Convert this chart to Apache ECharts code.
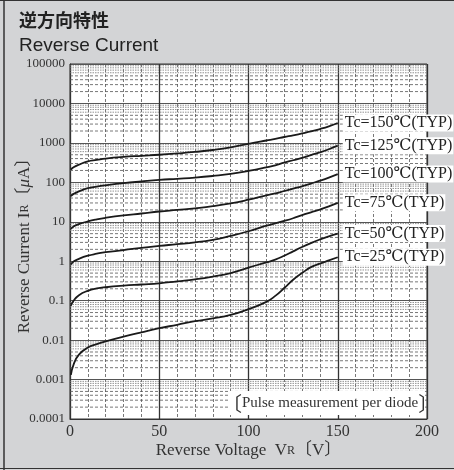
<!DOCTYPE html>
<html><head><meta charset="utf-8">
<script src="https://cdn.jsdelivr.net/npm/echarts@6/dist/echarts.min.js"></script>
<style>html,body{margin:0;padding:0;background:#d3d4d6;}#c{width:454px;height:470px;}</style>
</head><body><div id="c"></div>
<script>
const voltage = [0.5, 2, 5, 10, 15, 20, 30, 40, 50, 60, 70, 80, 90, 100, 110, 115, 120, 125, 130, 135, 140, 145, 150];
const tc150 = [210, 240, 280, 340, 370, 400, 440, 470, 500, 540, 590, 660, 770, 950, 1150, 1260, 1410, 1550, 1740, 1950, 2240, 2630, 3200];
const tc125 = [45, 51, 59, 71, 78, 84, 95, 105, 115, 123, 132, 145, 163, 195, 240, 270, 316, 363, 417, 490, 575, 690, 850];
const tc100 = [6.6, 7.6, 8.7, 10.2, 11.5, 12.6, 14.5, 16.2, 18.2, 20, 22, 24.8, 29.2, 36.3, 46.8, 52.5, 60.3, 69.2, 79.4, 93.3, 110, 132, 162];
const tc75 = [0.83, 0.98, 1.15, 1.38, 1.55, 1.70, 1.91, 2.19, 2.45, 2.7, 3.0, 3.5, 4.4, 5.75, 7.94, 9.12, 10.5, 12.3, 14.8, 17.4, 20.4, 24.5, 30.2];
const tc50 = [0.074, 0.1, 0.138, 0.178, 0.204, 0.219, 0.24, 0.257, 0.275, 0.309, 0.347, 0.407, 0.501, 0.69, 0.933, 1.10, 1.38, 1.78, 2.29, 2.88, 3.55, 4.27, 5.01];
const tc25 = [0.00132, 0.0024, 0.00427, 0.00646, 0.00794, 0.00933, 0.0123, 0.0158, 0.02, 0.0245, 0.0302, 0.0355, 0.0435, 0.061, 0.0933, 0.132, 0.209, 0.339, 0.501, 0.708, 0.871, 1.05, 1.26];
const seriesNames = ['Tc=150℃(TYP)', 'Tc=125℃(TYP)', 'Tc=100℃(TYP)', 'Tc=75℃(TYP)', 'Tc=50℃(TYP)', 'Tc=25℃(TYP)'];
const yTickLabels = ['0.0001', '0.001', '0.01', '0.1', '1', '10', '100', '1000', '10000', '100000'];
const xTickLabels = ['0', '50', '100', '150', '200'];

const serif = '"Liberation Serif","DejaVu Serif","Noto Sans CJK JP",serif';
const allSeries = [tc150, tc125, tc100, tc75, tc50, tc25];

// minor log grid values 2..9 per decade
const minorVals = [];
for (let e = -4; e < 5; e++) {
  for (let m = 2; m <= 9; m++) minorVals.push(m * Math.pow(10, e));
}

const series = [{
  type: 'custom', z: 1, silent: true, clip: true,
  data: minorVals.map(v => [v]),
  encode: { y: 0 },
  renderItem: function (params, api) {
    const v = api.value(0);
    const p1 = api.coord([0, v]);
    const p2 = api.coord([200, v]);
    const m = Math.round(v / Math.pow(10, Math.floor(Math.log10(v) + 1e-9)));
    const dense = m >= 6;
    return {
      type: 'line', silent: true,
      shape: { x1: p1[0], y1: p1[1], x2: p2[0], y2: p2[1] },
      style: { stroke: dense ? '#777' : '#555', lineWidth: 0.8, lineDash: dense ? [1.5, 1] : [3, 2] }
    };
  }
}];
allSeries.forEach((arr, i) => {
  series.push({
    type: 'line', name: seriesNames[i], z: 4,
    data: voltage.map((v, j) => [v, arr[j]]),
    smooth: 0.5, showSymbol: false, symbol: 'none',
    lineStyle: { color: '#1a1a1a', width: 1.8 },
    endLabel: {
      show: true, formatter: seriesNames[i], distance: 5,
      backgroundColor: '#fff', padding: [1, 1, 0, 2],
      fontFamily: serif, fontSize: 16, color: '#222'
    }
  });
});

const chart = echarts.init(document.getElementById('c'));
chart.setOption({
  animation: false,
  backgroundColor: '#d3d4d6',
  title: {
    text: '逆方向特性', subtext: 'Reverse Current', left: 14, top: 6, itemGap: 7,
    textStyle: { fontFamily: '"Noto Sans CJK JP",sans-serif', fontSize: 18, fontWeight: 'bold', color: '#222' },
    subtextStyle: { fontFamily: '"Liberation Sans",Arial,sans-serif', fontSize: 19, color: '#222' }
  },
  grid: { left: 70, right: 27, top: 64, bottom: 51, show: true, backgroundColor: '#fff', borderColor: '#333', borderWidth: 1, containLabel: false, outerBoundsMode: 'none' },
  xAxis: {
    type: 'value', min: 0, max: 200, interval: 50,
    axisLine: { show: true, lineStyle: { color: '#333' } },
    axisTick: { show: false },
    axisLabel: { margin: 5, fontFamily: serif, fontSize: 16, color: '#333', formatter: v => xTickLabels[Math.round(v / 50)] },
    splitLine: { show: true, lineStyle: { color: '#333', width: 1.3 } },
    minorTick: { show: false, splitNumber: 5 },
    minorSplitLine: { show: true, lineStyle: { color: '#555', type: [3, 2], width: 0.8 } },
    name: 'Reverse Voltage  V{s|R}〔V〕', nameLocation: 'middle', nameGap: 23, nameMoveOverlap: false,
    nameTextStyle: { fontFamily: serif, fontSize: 17, color: '#333', rich: { s: { fontFamily: serif, fontSize: 12, color: '#333' } } }
  },
  yAxis: {
    type: 'log', logBase: 10, min: 0.0001, max: 100000, interval: 1, splitNumber: 9,
    axisLine: { show: true, lineStyle: { color: '#333' } },
    axisTick: { show: false },
    axisLabel: {
      margin: 5, fontFamily: serif, fontSize: 13, color: '#333',
      formatter: v => yTickLabels[Math.round(Math.log10(v)) + 4]
    },
    splitLine: { show: true, lineStyle: { color: '#555', width: 1.2 } },
    name: 'Reverse Current I{s|R}〔{m|μ}A〕', nameLocation: 'middle', nameGap: 37, nameRotate: 90, nameMoveOverlap: false,
    nameTextStyle: {
      fontFamily: serif, fontSize: 17, color: '#333',
      rich: { s: { fontFamily: serif, fontSize: 12, color: '#333' }, m: { fontFamily: serif, fontSize: 17, fontStyle: 'italic', color: '#333' } }
    }
  },
  series: series,
  graphic: [
    { type: 'line', shape: { x1: 4, y1: 0, x2: 4, y2: 470 }, style: { stroke: '#333', lineWidth: 1.5 }, silent: true },
    { type: 'line', shape: { x1: 0, y1: 0.5, x2: 454, y2: 0.5 }, style: { stroke: '#333', lineWidth: 1.2 }, silent: true },
    { type: 'line', shape: { x1: 0, y1: 468.5, x2: 454, y2: 468.5 }, style: { stroke: '#333', lineWidth: 1.2 }, silent: true },
    { type: 'rect', shape: { x: 228, y: 391, width: 197, height: 24 }, style: { fill: '#fff' }, z: 10, silent: true },
    {
      type: 'text', x: 222, y: 403, z: 11, silent: true,
      style: {
        text: '{b|〔}{t|Pulse measurement per diode}{b|〕}', verticalAlign: 'middle',
        rich: {
          b: { fontFamily: '"Noto Sans CJK JP",serif', fontSize: 20, fill: '#333' },
          t: { fontFamily: serif, fontSize: 15, fill: '#333' }
        }
      }
    }
  ]
});
</script></body></html>
